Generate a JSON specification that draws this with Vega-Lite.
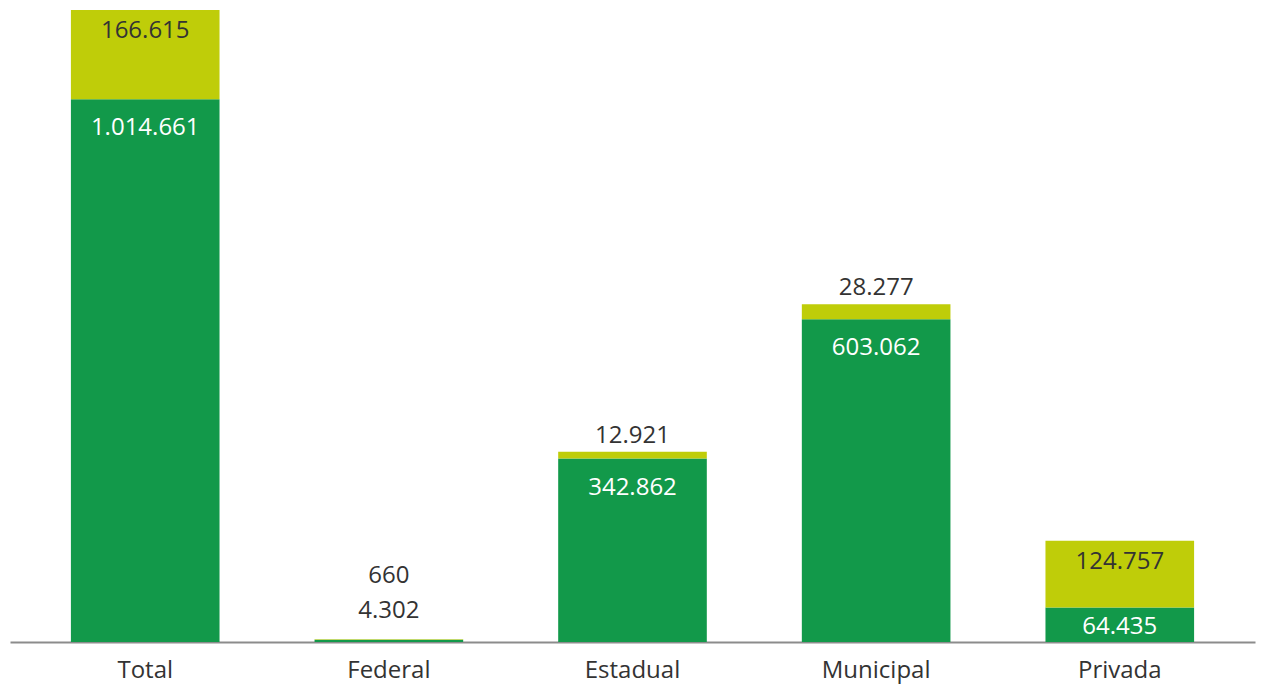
{
  "$schema": "https://vega.github.io/schema/vega-lite/v6.json",
  "width": 1245,
  "height": 642,
  "autosize": "none",
  "padding": {"left": 10, "top": 0, "right": 12, "bottom": 46},
  "background": "white",
  "data": {
    "values": [
      {"cat": "Total", "series": "A", "ord": 1, "value": 1014661, "label": "1.014.661"},
      {"cat": "Total", "series": "B", "ord": 2, "value": 166615, "label": "166.615"},
      {"cat": "Federal", "series": "A", "ord": 1, "value": 4302, "label": "4.302"},
      {"cat": "Federal", "series": "B", "ord": 2, "value": 660, "label": "660"},
      {"cat": "Estadual", "series": "A", "ord": 1, "value": 342862, "label": "342.862"},
      {"cat": "Estadual", "series": "B", "ord": 2, "value": 12921, "label": "12.921"},
      {"cat": "Municipal", "series": "A", "ord": 1, "value": 603062, "label": "603.062"},
      {"cat": "Municipal", "series": "B", "ord": 2, "value": 28277, "label": "28.277"},
      {"cat": "Privada", "series": "A", "ord": 1, "value": 64435, "label": "64.435"},
      {"cat": "Privada", "series": "B", "ord": 2, "value": 124757, "label": "124.757"}
    ]
  },
  "transform": [
    {"stack": "value", "groupby": ["cat"], "sort": [{"field": "ord", "order": "ascending"}], "as": ["y0", "y1"]}
  ],
  "encoding": {
    "x": {
      "field": "cat", "type": "nominal", "sort": ["Total", "Federal", "Estadual", "Municipal", "Privada"],
      "scale": {"paddingInner": 0.39, "paddingOuter": 0.25},
      "axis": {"title": null, "labelAngle": 0, "ticks": false, "labelFont": "Open Sans", "labelFontSize": 24, "labelColor": "#333333", "labelPadding": 16, "domainColor": "#8c8c8c", "domainWidth": 2, "grid": false}
    }
  },
  "layer": [
    {
      "mark": {"type": "bar"},
      "encoding": {
        "y": {"field": "y1", "type": "quantitative", "scale": {"domain": [0, 1200000]}, "axis": null},
        "y2": {"field": "y0"},
        "color": {"field": "series", "type": "nominal", "scale": {"domain": ["A", "B"], "range": ["#12994A", "#BFCD09"]}, "legend": null}
      }
    },
    {
      "transform": [{"filter": "datum.series == 'A' && (datum.cat == 'Total' || datum.cat == 'Estadual' || datum.cat == 'Municipal')"}],
      "mark": {"type": "text", "font": "Open Sans", "fontSize": 24, "color": "#ffffff", "baseline": "middle", "dy": 29},
      "encoding": {"y": {"field": "y1", "type": "quantitative"}, "text": {"field": "label"}}
    },
    {
      "transform": [{"filter": "datum.series == 'A' && datum.cat == 'Privada'"}],
      "mark": {"type": "text", "font": "Open Sans", "fontSize": 24, "color": "#ffffff", "baseline": "middle", "dy": 19},
      "encoding": {"y": {"field": "y1", "type": "quantitative"}, "text": {"field": "label"}}
    },
    {
      "transform": [{"filter": "datum.series == 'B' && (datum.cat == 'Total' || datum.cat == 'Privada')"}],
      "mark": {"type": "text", "font": "Open Sans", "fontSize": 24, "color": "#333333", "baseline": "middle", "dy": 21},
      "encoding": {"y": {"field": "y1", "type": "quantitative"}, "text": {"field": "label"}}
    },
    {
      "transform": [{"filter": "datum.series == 'B' && (datum.cat == 'Estadual' || datum.cat == 'Municipal')"}],
      "mark": {"type": "text", "font": "Open Sans", "fontSize": 24, "color": "#333333", "baseline": "middle", "dy": -16},
      "encoding": {"y": {"field": "y1", "type": "quantitative"}, "text": {"field": "label"}}
    },
    {
      "transform": [{"filter": "datum.cat == 'Federal' && datum.series == 'A'"}],
      "mark": {"type": "text", "font": "Open Sans", "fontSize": 24, "color": "#333333", "baseline": "middle", "dy": -29},
      "encoding": {"y": {"field": "y1", "type": "quantitative"}, "text": {"field": "label"}}
    },
    {
      "transform": [{"filter": "datum.cat == 'Federal' && datum.series == 'B'"}],
      "mark": {"type": "text", "font": "Open Sans", "fontSize": 24, "color": "#333333", "baseline": "middle", "dy": -63},
      "encoding": {"y": {"field": "y1", "type": "quantitative"}, "text": {"field": "label"}}
    }
  ],
  "config": {"view": {"stroke": null}}
}
